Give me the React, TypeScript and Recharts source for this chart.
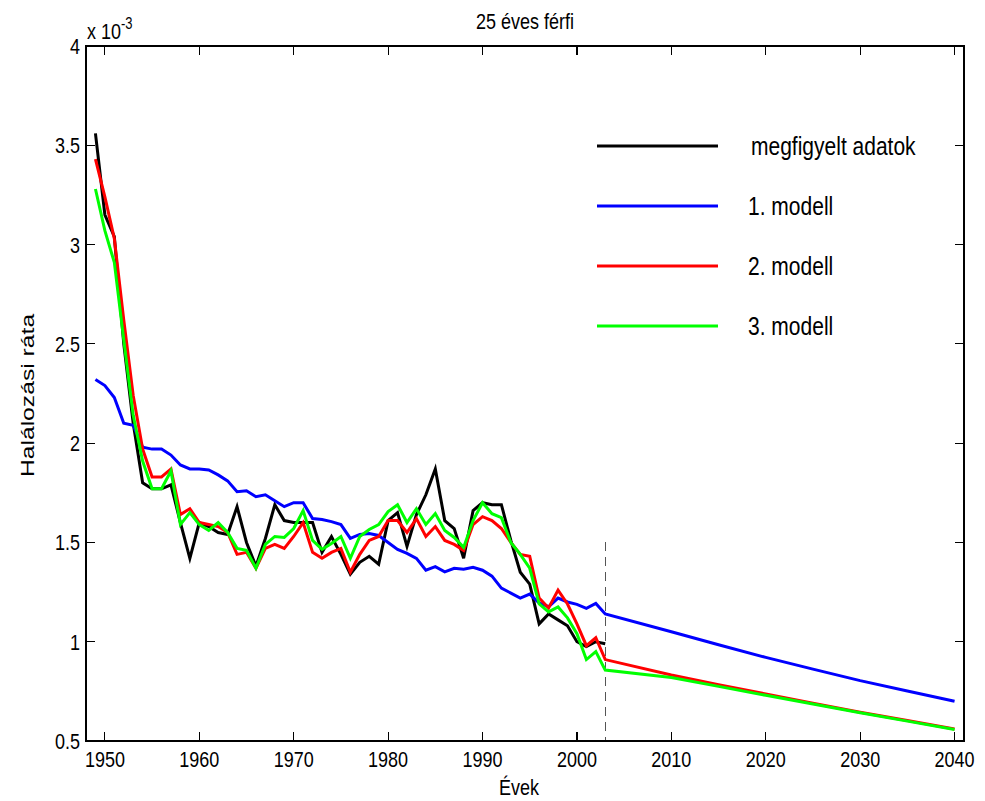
import React from 'react';
import { LineChart, Line, XAxis, YAxis, ReferenceLine, ReferenceArea, Legend } from 'recharts';

const FONT = '"Liberation Sans", Arial, Helvetica, sans-serif';
const VS = 1.25;

const obsYears = [
  1949, 1950, 1951, 1952, 1953, 1954, 1955, 1956, 1957, 1958,
  1959, 1960, 1961, 1962, 1963, 1964, 1965, 1966, 1967, 1968,
  1969, 1970, 1971, 1972, 1973, 1974, 1975, 1976, 1977, 1978,
  1979, 1980, 1981, 1982, 1983, 1984, 1985, 1986, 1987, 1988,
  1989, 1990, 1991, 1992, 1993, 1994, 1995, 1996, 1997, 1998,
  1999, 2000, 2001, 2002, 2003,
];

const observed = [
  3.56, 3.15, 3.04, 2.5, 2.1, 1.8, 1.77, 1.77, 1.79, 1.6,
  1.42, 1.6, 1.58, 1.55, 1.54, 1.68, 1.5, 1.38, 1.52, 1.69,
  1.61, 1.6, 1.6, 1.6, 1.45, 1.53, 1.44, 1.34, 1.4, 1.43,
  1.39, 1.61, 1.65, 1.48, 1.64, 1.74, 1.87, 1.61, 1.57, 1.42,
  1.66, 1.7, 1.69, 1.69, 1.51, 1.35, 1.29, 1.09, 1.14, 1.11,
  1.08, 1.0, 0.975, 1.0, 0.99,
];

const model1 = [
  2.32, 2.29, 2.23, 2.1, 2.09, 1.98, 1.97, 1.97, 1.94, 1.89,
  1.87, 1.87, 1.865, 1.84, 1.81, 1.755, 1.76, 1.73, 1.74, 1.71,
  1.68, 1.7, 1.7, 1.62, 1.615, 1.605, 1.59, 1.52, 1.54, 1.545,
  1.535, 1.5, 1.465, 1.445, 1.42, 1.36, 1.378, 1.352, 1.37, 1.365,
  1.375, 1.36, 1.33, 1.27, 1.245, 1.22, 1.24, 1.195, 1.176, 1.22,
  1.2, 1.188, 1.168, 1.193, 1.14,
];

const model2 = [
  3.43, 3.24, 3.03, 2.62, 2.24, 1.97, 1.83, 1.83, 1.87, 1.64,
  1.67, 1.6, 1.59, 1.58, 1.55, 1.44, 1.45, 1.37, 1.47, 1.49,
  1.47, 1.53, 1.6, 1.45, 1.42, 1.45, 1.47, 1.35, 1.44, 1.51,
  1.53, 1.61, 1.61, 1.55, 1.62, 1.53, 1.58, 1.51, 1.49, 1.46,
  1.59, 1.63, 1.61, 1.57, 1.5, 1.44, 1.43, 1.22, 1.17, 1.26,
  1.19, 1.09, 0.98, 1.02, 0.91,
];

const model3 = [
  3.28, 3.07, 2.91, 2.52, 2.14, 1.91, 1.77, 1.77, 1.86, 1.59,
  1.65, 1.59, 1.56, 1.6, 1.55, 1.47, 1.46, 1.37, 1.49, 1.53,
  1.525, 1.57, 1.66, 1.51, 1.465, 1.495, 1.53, 1.42, 1.53, 1.565,
  1.59, 1.655, 1.69, 1.6, 1.67, 1.59, 1.645, 1.56, 1.525, 1.475,
  1.61, 1.7, 1.645, 1.625, 1.5, 1.44, 1.37, 1.19, 1.15, 1.175,
  1.12, 1.04, 0.91, 0.95, 0.857,
];

const projYears = [2010, 2015, 2020, 2025, 2030, 2035, 2040];
const model1Proj = [1.05, 0.985, 0.921, 0.862, 0.804, 0.752, 0.7];
const model2Proj = [0.832, 0.783, 0.737, 0.69, 0.645, 0.603, 0.56];
const model3Proj = [0.82, 0.775, 0.73, 0.686, 0.642, 0.6, 0.558];

const xTicks = [1950, 1960, 1970, 1980, 1990, 2000, 2010, 2020, 2030, 2040];
const yTicks = [0.5, 1, 1.5, 2, 2.5, 3, 3.5, 4];
const xDomain = [1948, 2041];
const yDomain = [0.5, 4];
const forecastStart = 2003;
const markerTop = 1.5;

const seriesNames = ['megfigyelt adatok', '1. modell', '2. modell', '3. modell'];
const seriesColors = ['#000000', '#0000ff', '#ff0000', '#00ff00'];

const titleText = '25 éves férfi';
const xLabelText = 'Évek';
const yLabelText = 'Halálozási ráta';
const scaleText = 'x 10';
const scaleExp = '-3';

const data = [
  ...obsYears.map((year, i) => ({
    year,
    obs: observed[i],
    m1: model1[i],
    m2: model2[i],
    m3: model3[i],
  })),
  ...projYears.map((year, i) => ({
    year,
    m1: model1Proj[i],
    m2: model2Proj[i],
    m3: model3Proj[i],
  })),
];

// layout
const CHART_W = 969;
const CHART_H = 793;
const MARGIN = { top: 38, right: 13, bottom: 30, left: 28 };
const X_AXIS_H = 30;
const Y_AXIS_W = 50;
const PLOT_W = CHART_W - MARGIN.left - MARGIN.right - Y_AXIS_W;
const PLOT_H = CHART_H - MARGIN.top - MARGIN.bottom - X_AXIS_H;
const TICK = 9;

const HText = ({ x, y, anchor = 'start', size = 18, children }: any) => (
  <text
    transform={`translate(${x},${y}) scale(1,${VS})`}
    x={0}
    y={0}
    textAnchor={anchor}
    fontSize={size}
    fontFamily={FONT}
    fill="#000"
  >
    {children}
  </text>
);

const TickLine = (p: any) => (
  <line {...p} stroke="#000" strokeWidth={1.2} shapeRendering="crispEdges" />
);

const BottomTick = (props: any) => {
  const { x, y, payload } = props;
  const top = y - PLOT_H;
  return (
    <g>
      <TickLine x1={x} y1={y} x2={x} y2={y - TICK} />
      <TickLine x1={x} y1={top} x2={x} y2={top + TICK} />
      <HText x={x} y={y + 26} anchor="middle">{payload.value}</HText>
    </g>
  );
};

const LeftTick = (props: any) => {
  const { x, y, payload } = props;
  const right = x + PLOT_W;
  return (
    <g>
      <TickLine x1={x} y1={y} x2={x + TICK} y2={y} />
      <TickLine x1={right} y1={y} x2={right - TICK} y2={y} />
      <HText x={x - 6} y={y + 8} anchor="end">{payload.value}</HText>
    </g>
  );
};

const XLabel = (props: any) => {
  const { viewBox } = props;
  const cx = viewBox.x + viewBox.width / 2 - 6;
  return <HText x={cx} y={viewBox.y + 54} anchor="middle">{xLabelText}</HText>;
};

const BoxLabel = (props: any) => {
  const { viewBox } = props;
  const cx = viewBox.x + viewBox.width / 2;
  return (
    <g>
      <HText x={cx} y={viewBox.y - 17} anchor="middle">{titleText}</HText>
      <text
        transform={`translate(${viewBox.x + 1},${viewBox.y - 7}) scale(1,${VS})`}
        x={0}
        y={0}
        fontSize={18}
        fontFamily={FONT}
        fill="#000"
      >
        {scaleText}
        <tspan fontSize={13} dy={-8}>{scaleExp}</tspan>
      </text>
    </g>
  );
};

const YLabel = (props: any) => {
  const { viewBox } = props;
  const cx = viewBox.x - 8;
  const cy = viewBox.y + viewBox.height / 2 + 2;
  return (
    <text
      transform={`translate(${cx},${cy}) rotate(-90) scale(1.3,1)`}
      x={0}
      y={0}
      textAnchor="middle"
      dominantBaseline="central"
      fontSize={19}
      fontFamily={FONT}
      fill="#000"
    >
      {yLabelText}
    </text>
  );
};

const renderLegend = (props: any) => {
  const payload = [...(props.payload || [])].sort(
    (a: any, b: any) => seriesNames.indexOf(a.value) - seriesNames.indexOf(b.value)
  );
  return (
    <div style={{ fontFamily: FONT, fontSize: 21, color: '#000' }}>
      {payload.map((entry: any, i: number) => (
        <div key={i} style={{ height: 60, display: 'flex', alignItems: 'center' }}>
          <svg width={121} height={6} style={{ display: 'block' }}>
            <line x1={0} y1={3} x2={121} y2={3} stroke={entry.color} strokeWidth={3} />
          </svg>
          <span
            style={{
              marginLeft: i === 0 ? 33 : 30,
              whiteSpace: 'nowrap',
              lineHeight: '20px',
              display: 'inline-block',
              transform: `scale(1,${VS})`,
            }}
          >
            {entry.value}
          </span>
        </div>
      ))}
    </div>
  );
};

export default function App() {
  return (
    <div style={{ width: CHART_W, height: CHART_H, background: '#fff' }}>
      <LineChart width={CHART_W} height={CHART_H} data={data} margin={MARGIN}>
        <XAxis
          dataKey="year"
          type="number"
          domain={xDomain}
          ticks={xTicks}
          interval={0}
          allowDataOverflow
          height={X_AXIS_H}
          tickSize={0}
          tickMargin={0}
          tickLine={false}
          tick={<BottomTick />}
          axisLine={{ stroke: '#000', strokeWidth: 1.2, shapeRendering: 'crispEdges' }}
          label={<XLabel />}
        />
        <YAxis
          type="number"
          domain={yDomain}
          ticks={yTicks}
          interval={0}
          allowDataOverflow
          width={Y_AXIS_W}
          tickSize={0}
          tickMargin={0}
          tickLine={false}
          tick={<LeftTick />}
          axisLine={{ stroke: '#000', strokeWidth: 1.2, shapeRendering: 'crispEdges' }}
          label={<YLabel />}
        />
        <ReferenceArea
          x1={xDomain[0]}
          x2={xDomain[1]}
          y1={yDomain[0]}
          y2={yDomain[1]}
          fill="none"
          fillOpacity={0}
          stroke="#000"
          strokeWidth={1.2}
          shapeRendering="crispEdges"
          label={<BoxLabel />}
        />
        <ReferenceLine
          segment={[
            { x: forecastStart, y: markerTop },
            { x: forecastStart, y: yDomain[0] },
          ]}
          stroke="#555"
          strokeWidth={1.2}
          strokeDasharray="9 6"
          shapeRendering="crispEdges"
        />
        <Line dataKey="obs" name={seriesNames[0]} stroke={seriesColors[0]} strokeWidth={3} dot={false} isAnimationActive={false} />
        <Line dataKey="m1" name={seriesNames[1]} stroke={seriesColors[1]} strokeWidth={3} dot={false} isAnimationActive={false} />
        <Line dataKey="m2" name={seriesNames[2]} stroke={seriesColors[2]} strokeWidth={3} dot={false} isAnimationActive={false} />
        <Line dataKey="m3" name={seriesNames[3]} stroke={seriesColors[3]} strokeWidth={3} dot={false} isAnimationActive={false} />
        <Legend
          layout="horizontal"
          verticalAlign="middle"
          align="center"
          content={renderLegend}
          wrapperStyle={{ position: 'absolute', left: 589, top: 108, width: 360, height: 240 }}
        />
      </LineChart>
    </div>
  );
}
